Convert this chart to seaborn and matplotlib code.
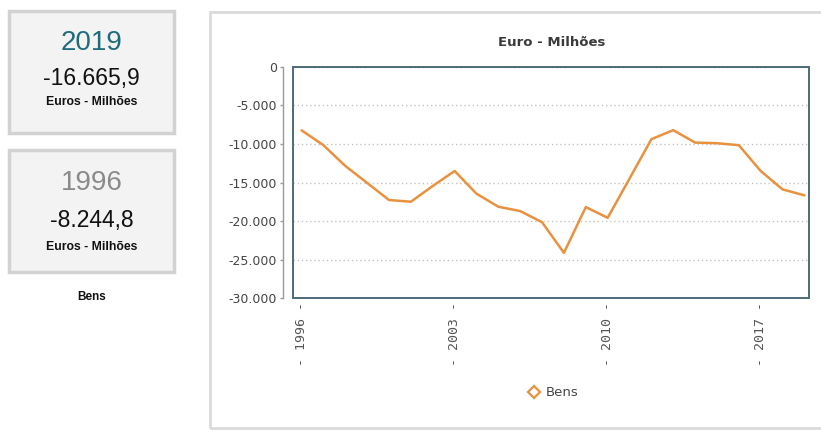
import matplotlib
matplotlib.use("Agg")
import matplotlib.pyplot as plt
from matplotlib.patches import Rectangle
from matplotlib.lines import Line2D
from matplotlib.ticker import FuncFormatter, FixedLocator
import seaborn as sns
import pandas as pd

# Balança comercial de bens, milhões de euros
years = list(range(1996, 2020))
bens = [-8244.8, -10170, -12860, -15060, -17270, -17490, -15450, -13510,
        -16450, -18140, -18700, -20150, -24110, -18180, -19570, -14500,
        -9390, -8220, -9830, -9910, -10170, -13510, -15890, -16665.9]
x_tick_years = [1996, 2003, 2010, 2017]
y_ticks = [0, -5000, -10000, -15000, -20000, -25000, -30000]
series_name = "Bens"
unit_label = "Euros - Milhões"
chart_title = "Euro - Milhões"

df = pd.DataFrame({"ano": years, "valor": bens})

sns.set_style("white")
plt.rcParams["font.family"] = ["DejaVu Sans"]

W, H = 821, 430
fig = plt.figure(figsize=(W / 100, H / 100), dpi=100)
fig.patch.set_facecolor("white")


def fx(px):
    return px / W


def fy(py):
    return 1 - py / H


LINE_COLOR = "#E8913F"
BOX_COLOR = "#4d6b78"
NARROW = ["Liberation Sans Narrow", "Liberation Sans", "DejaVu Sans"]

# summary cards on the left
for (x0, y0, x1, y1) in [(9, 11, 174, 133), (9, 150, 174, 272)]:
    fig.patches.append(Rectangle((fx(x0), fy(y1)), fx(x1 - x0), (y1 - y0) / H,
                                 transform=fig.transFigure, facecolor="#f3f3f3",
                                 edgecolor="#d2d2d2", linewidth=2.5))

last_year, first_year = years[-1], years[0]
fmt_pt = lambda v: f"{v:,.1f}".replace(",", "X").replace(".", ",").replace("X", ".")

cx = fx(91.5)
fig.text(cx, fy(43), str(last_year), ha="center", va="center", fontsize=20,
         color="#1f6b7c", family=NARROW)
fig.text(cx, fy(79), fmt_pt(bens[-1]), ha="center", va="center", fontsize=16.5,
         color="#111111", family=NARROW)
fig.text(cx, fy(102), unit_label, ha="center", va="center", fontsize=8.8,
         color="#111111", family=NARROW, fontweight="bold")

fig.text(cx, fy(183), str(first_year), ha="center", va="center", fontsize=20,
         color="#8a8a8a", family=NARROW)
fig.text(cx, fy(220), fmt_pt(bens[0]), ha="center", va="center", fontsize=16.5,
         color="#111111", family=NARROW)
fig.text(cx, fy(247), unit_label, ha="center", va="center", fontsize=8.8,
         color="#111111", family=NARROW, fontweight="bold")

fig.text(cx, fy(297), series_name, ha="center", va="center", fontsize=8.5,
         color="#111111", family=NARROW, fontweight="bold")

# chart panel frame
fig.patches.append(Rectangle((fx(210), fy(428)), fx(W + 10 - 210), (428 - 11.7) / H,
                             transform=fig.transFigure, facecolor="none",
                             edgecolor="#dadada", linewidth=2))

# main axes
ax_l, ax_r, ax_t, ax_b = 293.3, 809, 66.7, 298.3
ax = fig.add_axes([fx(ax_l), fy(ax_b), fx(ax_r - ax_l), (ax_b - ax_t) / H])
ax.set_facecolor("white")

sns.lineplot(data=df, x="ano", y="valor", ax=ax, color=LINE_COLOR,
             linewidth=1.8, legend=False)

ax.set_xlim(1995.62, 2019.21)
ax.set_ylim(-30000, 0)
ax.set_xlabel("")
ax.set_ylabel("")

for s in ["top", "right", "bottom"]:
    ax.spines[s].set_visible(False)
ax.spines["left"].set_position(("outward", 7.6))
ax.spines["left"].set_color("#9a9a9a")
ax.spines["left"].set_linewidth(1)
ax.add_patch(Rectangle((0, 0), 1, 1, transform=ax.transAxes, fill=False,
                       edgecolor=BOX_COLOR, linewidth=1.4, clip_on=False, zorder=5))

ax.yaxis.set_major_locator(FixedLocator(y_ticks))
ax.yaxis.set_major_formatter(FuncFormatter(lambda v, p: f"{int(round(v)):,}".replace(",", ".")))
ax.tick_params(axis="y", which="major", direction="out", length=2.5, width=1,
               color="#9a9a9a", pad=1.5, labelsize=9, labelcolor="#444444", left=True)

ax.set_xticks(x_tick_years)
ax.set_xticklabels([f"- {y} -" for y in x_tick_years], rotation=90,
                   family="DejaVu Sans Mono", fontsize=9.5, color="#555555")
ax.tick_params(axis="x", length=0, pad=3)

ax.grid(axis="y", linestyle=(0, (1, 2)), color="#c4c4c4", linewidth=1)
ax.grid(axis="x", visible=False)

# title and legend
fig.text(fx(551.7), fy(42.7), chart_title, ha="center", va="center",
         fontsize=9.5, fontweight="bold", color="#3a3a3a")

handle = Line2D([], [], linestyle="none", marker="D", markersize=6,
                markerfacecolor="white", markeredgecolor=LINE_COLOR,
                markeredgewidth=1.6, label=series_name)
leg = fig.legend(handles=[handle], loc="center", bbox_to_anchor=(fx(553), fy(393)),
                 frameon=False, fontsize=9.5, handletextpad=0.4, handlelength=1.0,
                 borderaxespad=0)
for t in leg.get_texts():
    t.set_color("#444444")

fig.savefig("out.png", dpi=100, facecolor="white")
